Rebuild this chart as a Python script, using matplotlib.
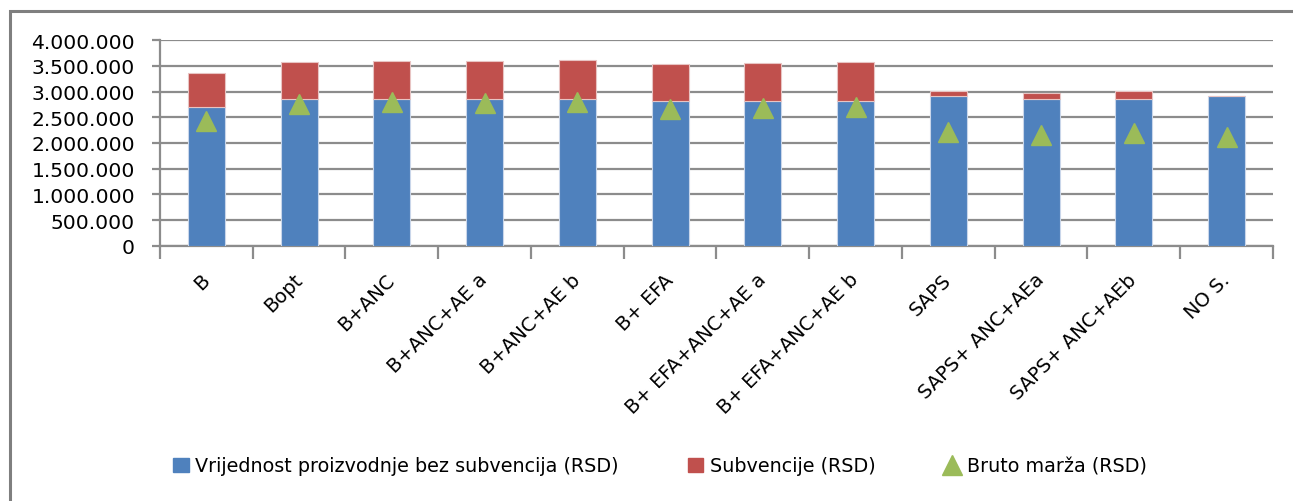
import matplotlib.pyplot as plt
from matplotlib.patches import Rectangle
from matplotlib.lines import Line2D

# Data (RSD)
categories = ["B", "Bopt", "B+ANC", "B+ANC+AE a", "B+ANC+AE b", "B+ EFA",
              "B+ EFA+ANC+AE a", "B+ EFA+ANC+AE b", "SAPS", "SAPS+ ANC+AEa",
              "SAPS+ ANC+AEb", "NO S."]
vrijednost = [2695000, 2857000, 2857000, 2857000, 2857000, 2812000,
              2812000, 2812000, 2909000, 2851000, 2851000, 2909000]
subvencije = [668000, 720000, 746000, 740000, 763000, 718000,
              740000, 765000, 110000, 129000, 155000, 0]
bruto_marza = [2419000, 2760000, 2790000, 2780000, 2805000, 2662000,
               2680000, 2700000, 2208000, 2162000, 2190000, 2110000]
yticks = [0, 500000, 1000000, 1500000, 2000000, 2500000, 3000000, 3500000, 4000000]

blue = "#4F81BD"
red = "#C0504D"
green = "#9BBB59"
grid_col = "#8C8C8C"

W, H = 1293, 502
fig = plt.figure(figsize=(W / 100, H / 100), dpi=100)
plt.rcParams['font.family'] = ['DejaVu Sans']

# outer chart frame
fig.patches.append(Rectangle((10 / W, -0.1), 1.2, 1 - 12 / H + 0.1, transform=fig.transFigure,
                             fill=False, edgecolor="#7F7F7F", linewidth=2.2))

ax = fig.add_axes([160 / W, 1 - 246.7 / H, (1273 - 160) / W, (246.7 - 41.3) / H])

x = list(range(len(categories)))
ax.bar(x, vrijednost, width=0.4, color=blue, edgecolor="#C9D6EA", linewidth=0.8, zorder=3)
ax.bar(x, subvencije, width=0.4, bottom=vrijednost, color=red, edgecolor="#E8C4C3",
       linewidth=0.8, zorder=3)
ax.plot(x, bruto_marza, linestyle="none", marker="^", markersize=14.5, color=green,
        markeredgecolor=green, zorder=4)

ax.set_xlim(-0.5, len(categories) - 0.5)
ax.set_ylim(0, 4000000)
ax.set_yticks(yticks)
ax.set_yticklabels([f"{v:,}".replace(",", ".") for v in yticks], fontsize=14.6)
ax.yaxis.grid(True, color=grid_col, linewidth=1.6, zorder=0)
ax.set_axisbelow(True)

ax.set_xticks([i - 0.5 for i in range(len(categories) + 1)])
ax.set_xticklabels([])
ax.set_xticks(x, minor=True)
ax.set_xticklabels(categories, minor=True, rotation=45, ha="right", va="center",
                   rotation_mode="anchor", fontsize=14)
ax.tick_params(axis="x", which="minor", length=0, pad=22)
ax.tick_params(axis="x", which="major", length=9, width=1.6, color=grid_col)
ax.tick_params(axis="y", length=6, width=1.6, color=grid_col, pad=12)

for side in ["top", "right"]:
    ax.spines[side].set_visible(False)
for side in ["left", "bottom"]:
    ax.spines[side].set_color(grid_col)
    ax.spines[side].set_linewidth(1.6)

handles = [Rectangle((0, 0), 1, 1, color=blue),
           Rectangle((0, 0), 1, 1, color=red),
           Line2D([], [], linestyle="none", marker="^", markersize=14, color=green)]
labels = ["Vrijednost proizvodnje bez subvencija (RSD)", "Subvencije (RSD)", "Bruto marža (RSD)"]
fig.legend(handles, labels, loc="center", bbox_to_anchor=(660 / W, 1 - 467 / H), ncol=3,
           frameon=False, fontsize=13.8, handlelength=0.8, handleheight=0.8,
           handletextpad=0.35, columnspacing=3.6)

fig.savefig("out.png", dpi=100)
